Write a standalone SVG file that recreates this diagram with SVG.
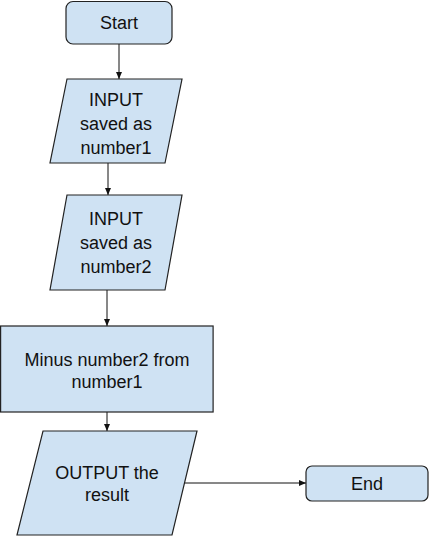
<svg xmlns="http://www.w3.org/2000/svg" width="437" height="547" viewBox="0 0 437 547">
<style>
.shape{fill:#cfe2f3;stroke:#222;stroke-width:1.2}
.lbl{font-family:"Liberation Sans",Arial,sans-serif;font-size:18px;fill:#111;text-anchor:middle}
.conn{stroke:#111;stroke-width:1;fill:none;marker-end:url(#ah)}
</style>
<defs>
<marker id="ah" markerWidth="8" markerHeight="8" refX="7" refY="4" orient="auto" markerUnits="userSpaceOnUse">
<path d="M0,1 L7,4 L0,7 Z" fill="#111"/>
</marker>
</defs>
<rect width="437" height="547" fill="#fff"/>
<g id="connectors">
<line class="conn" x1="119" y1="44" x2="119" y2="79"/>
<line class="conn" x1="108" y1="163" x2="108" y2="195"/>
<line class="conn" x1="107" y1="290" x2="107" y2="326"/>
<line class="conn" x1="107" y1="412" x2="107" y2="431"/>
<line class="conn" x1="185" y1="483" x2="306" y2="483"/>
</g>
<g id="start">
<rect class="shape" x="66" y="1.5" width="106" height="42.5" rx="7"/>
<text class="lbl" x="119" y="29">Start</text>
</g>
<g id="input1">
<polygon class="shape" points="67,79 182,79 165,163 50,163"/>
<text class="lbl" x="116" y="106">INPUT</text>
<text class="lbl" x="116" y="130">saved as</text>
<text class="lbl" x="116" y="154">number1</text>
</g>
<g id="input2">
<polygon class="shape" points="67,195 182,195 165,290 50,290"/>
<text class="lbl" x="116" y="225">INPUT</text>
<text class="lbl" x="116" y="249">saved as</text>
<text class="lbl" x="116" y="273">number2</text>
</g>
<g id="minus">
<rect class="shape" x="0.6" y="326" width="212.5" height="86"/>
<text class="lbl" x="107" y="366">Minus number2 from</text>
<text class="lbl" x="107" y="388">number1</text>
</g>
<g id="output">
<polygon class="shape" points="43,431 197,431 172,535 17,535"/>
<text class="lbl" x="107" y="479">OUTPUT the</text>
<text class="lbl" x="107" y="501">result</text>
</g>
<g id="end">
<rect class="shape" x="306" y="466" width="122" height="35" rx="6"/>
<text class="lbl" x="367" y="490">End</text>
</g>
</svg>
